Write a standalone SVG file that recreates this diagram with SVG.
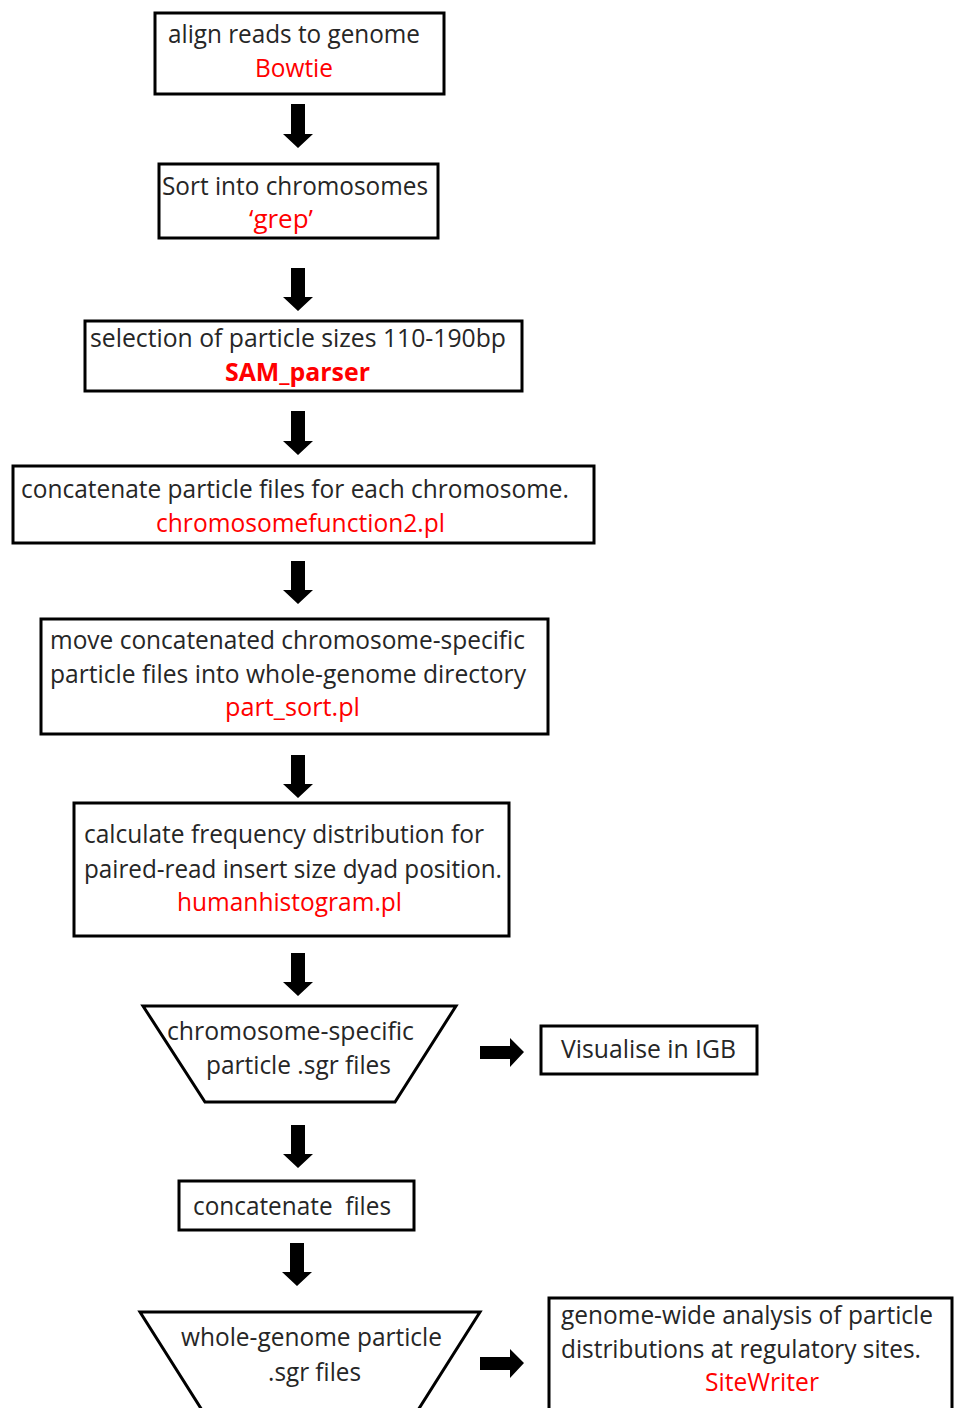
<svg xmlns="http://www.w3.org/2000/svg" width="954" height="1408" viewBox="0 0 954 1408">
<style>
.box{fill:#fff;stroke:#000;stroke-width:3}
.t{font-family:"Open Sans","Noto Sans",sans-serif;font-size:25px;fill:#262626}
.r{font-family:"Open Sans","Noto Sans",sans-serif;font-size:25px;fill:#ff0000}
.b{font-weight:bold}
.arr{fill:#000}
</style>
<rect width="954" height="1408" fill="#fff"/>
<g id="connectors">
  <polygon class="arr" points="291,104 305,104 305,134 313,134 298,148 283,134 291,134"/>
  <polygon class="arr" points="291,268 305,268 305,297 313,297 298,311 283,297 291,297"/>
  <polygon class="arr" points="291,411 305,411 305,441 313,441 298,455 283,441 291,441"/>
  <polygon class="arr" points="291,561 305,561 305,590 313,590 298,604 283,590 291,590"/>
  <polygon class="arr" points="291,755 305,755 305,784 313,784 298,798 283,784 291,784"/>
  <polygon class="arr" points="291,953 305,953 305,982 313,982 298,996 283,982 291,982"/>
  <polygon class="arr" points="291,1125 305,1125 305,1154 313,1154 298,1168 283,1154 291,1154"/>
  <polygon class="arr" points="290,1243 304,1243 304,1272 312,1272 297,1286 282,1272 290,1272"/>
  <polygon class="arr" points="480,1046 510,1046 510,1038 524,1052 510,1067 510,1059 480,1059"/>
  <polygon class="arr" points="480,1357 510,1357 510,1349 524,1363 510,1378 510,1370 480,1370"/>
</g>
<g id="n1">
  <rect class="box" x="155" y="13" width="289" height="81"/>
  <text class="t" x="168" y="43" textLength="252" lengthAdjust="spacingAndGlyphs">align reads to genome</text>
  <text class="r" x="255" y="77" textLength="78" lengthAdjust="spacingAndGlyphs">Bowtie</text>
</g>
<g id="n2">
  <rect class="box" x="159" y="164" width="279" height="74"/>
  <text class="t" x="162" y="195" textLength="266" lengthAdjust="spacingAndGlyphs">Sort into chromosomes</text>
  <text class="r" x="249" y="228" textLength="64" lengthAdjust="spacingAndGlyphs">‘grep’</text>
</g>
<g id="n3">
  <rect class="box" x="85" y="321" width="437" height="70"/>
  <text class="t" x="90" y="347" textLength="416" lengthAdjust="spacingAndGlyphs">selection of particle sizes 110-190bp</text>
  <text class="r b" x="225" y="381" textLength="145" lengthAdjust="spacingAndGlyphs">SAM_parser</text>
</g>
<g id="n4">
  <rect class="box" x="13" y="466" width="581" height="77"/>
  <text class="t" x="21" y="498" textLength="548" lengthAdjust="spacingAndGlyphs">concatenate particle files for each chromosome.</text>
  <text class="r" x="156" y="532" textLength="289" lengthAdjust="spacingAndGlyphs">chromosomefunction2.pl</text>
</g>
<g id="n5">
  <rect class="box" x="41" y="619" width="507" height="115"/>
  <text class="t" x="50" y="649" textLength="475" lengthAdjust="spacingAndGlyphs">move concatenated chromosome-specific</text>
  <text class="t" x="50" y="683" textLength="476" lengthAdjust="spacingAndGlyphs">particle files into whole-genome directory</text>
  <text class="r" x="225" y="716" textLength="135" lengthAdjust="spacingAndGlyphs">part_sort.pl</text>
</g>
<g id="n6">
  <rect class="box" x="74" y="803" width="435" height="133"/>
  <text class="t" x="84" y="843" textLength="400" lengthAdjust="spacingAndGlyphs">calculate frequency distribution for</text>
  <text class="t" x="84" y="878" textLength="418" lengthAdjust="spacingAndGlyphs">paired-read insert size dyad position.</text>
  <text class="r" x="177" y="911" textLength="225" lengthAdjust="spacingAndGlyphs">humanhistogram.pl</text>
</g>
<g id="n7">
  <polygon class="box" points="143,1006 456,1006 395,1102 205,1102"/>
  <text class="t" x="167" y="1040" textLength="247" lengthAdjust="spacingAndGlyphs">chromosome-specific</text>
  <text class="t" x="206" y="1074" textLength="185" lengthAdjust="spacingAndGlyphs">particle .sgr files</text>
</g>
<g id="n8">
  <rect class="box" x="541" y="1026" width="216" height="48"/>
  <text class="t" x="561" y="1058" textLength="175" lengthAdjust="spacingAndGlyphs">Visualise in IGB</text>
</g>
<g id="n9">
  <rect class="box" x="179" y="1181" width="235" height="49"/>
  <text class="t" x="193" y="1215" textLength="198" lengthAdjust="spacingAndGlyphs" xml:space="preserve">concatenate  files</text>
</g>
<g id="n10">
  <polygon class="box" points="140,1312 480,1312 413,1418 207,1418"/>
  <text class="t" x="181" y="1346" textLength="261" lengthAdjust="spacingAndGlyphs">whole-genome particle</text>
  <text class="t" x="268" y="1381" textLength="93" lengthAdjust="spacingAndGlyphs">.sgr files</text>
</g>
<g id="n11">
  <rect class="box" x="549" y="1298" width="403" height="130"/>
  <text class="t" x="561" y="1324" textLength="372" lengthAdjust="spacingAndGlyphs">genome-wide analysis of particle</text>
  <text class="t" x="561" y="1358" textLength="360" lengthAdjust="spacingAndGlyphs">distributions at regulatory sites.</text>
  <text class="r" x="705" y="1391" textLength="114" lengthAdjust="spacingAndGlyphs">SiteWriter</text>
</g>
</svg>
